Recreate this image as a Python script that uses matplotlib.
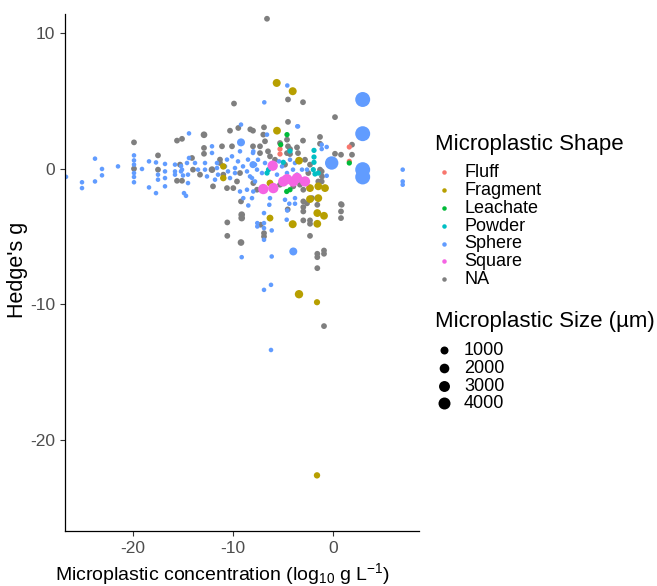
import matplotlib
matplotlib.use("Agg")
import matplotlib.pyplot as plt
from matplotlib.lines import Line2D

plt.rcParams["font.family"] = ["Liberation Sans", "DejaVu Sans"]
plt.rcParams["mathtext.fontset"] = "custom"
plt.rcParams["mathtext.rm"] = "Liberation Sans"
plt.rcParams["mathtext.it"] = "Liberation Sans:italic"
plt.rcParams["axes.unicode_minus"] = False

# points per microplastic shape: (log10 concentration, Hedge's g, size in um)
sphere = [
    (-26.7, -0.6, 20), (-25.1, -1.0, 20), (-25.1, -1.43, 20), (-23.8, 0.74, 20),
    (-23.8, -0.94, 20), (-23.1, -0.02, 20), (-23.1, -0.49, 20), (-21.5, 0.17, 20),
    (-19.9, 0.98, 20), (-19.9, 0.61, 20), (-19.9, 0.3, 20), (-19.9, -0.32, 20),
    (-19.9, -0.61, 20), (-19.9, -1.0, 20), (-19.1, -0.02, 20), (-18.4, 0.54, 20),
    (-18.4, -1.38, 20), (-17.7, 0.46, 20), (-17.5, -0.44, 20), (-17.5, -0.81, 20),
    (-17.7, -1.8, 20), (-16.8, 0.35, 20), (-16.8, -0.2, 20), (-16.8, -0.69, 20),
    (-16.8, -1.3, 20), (-15.8, 0.3, 20), (-15.8, -0.2, 20), (-15.8, -0.44, 20),
    (-15.2, 0.2, 20), (-15.2, -0.2, 20), (-15.0, -0.5, 20), (-14.7, -2.0, 20),
    (-14.9, -1.8, 20), (-14.4, 0.79, 20), (-14.4, 2.6, 20),
    (-9.2, 3.25, 20), (-12.1, 1.65, 20), (-12.1, 1.16, 20), (-8.0, 1.16, 20),
    (-14.6, 0.42, 20), (-15.1, -0.07, 20), (-13.8, 0.42, 20), (-13.5, -0.07, 20),
    (-14.5, -0.44, 20), (-14.5, -1.06, 20), (-12.8, 0.42, 20), (-12.8, -0.07, 20),
    (-12.6, -0.57, 20), (-11.6, 0.42, 20), (-11.6, 0.05, 20), (-11.5, -0.44, 20),
    (-11.8, -0.81, 20), (-10.8, 0.17, 20), (-10.6, 0.67, 20), (-10.5, -0.2, 20),
    (-10.3, -0.69, 20), (-10.1, 0.91, 20), (-9.8, 0.05, 20), (-9.8, -0.32, 20),
    (-9.5, 0.54, 20), (-9.3, 1.28, 20), (-9.0, 0.17, 20), (-8.6, -0.2, 20),
    (-8.5, 0.67, 20), (-8.3, -0.57, 20), (-8.0, 0.3, 600), (-7.8, -0.94, 20),
    (-7.6, -0.07, 20), (-9.3, -1.68, 20), (-8.6, -1.55, 20), (-8.1, -2.17, 20),
    (-8.97, -2.17, 20), (-6.6, 2.51, 20), (-3.5, 3.12, 20), (-7.97, 1.28, 20),
    (-4.3, 0.66, 20), (-7.8, 0.3, 20), (-7.5, 0.66, 20), (-6.8, 0.42, 20),
    (-7.1, -0.32, 20), (-5.4, 0.54, 20), (-5.1, 0.17, 20), (-4.6, -0.32, 20),
    (-5.6, -0.44, 20), (-3.8, 0.42, 20), (-4.0, -0.07, 20), (-3.1, -0.07, 20),
    (-3.6, -0.44, 20), (-2.6, -0.07, 20), (-8.1, -0.69, 20), (-7.97, -1.68, 20),
    (-6.3, -2.17, 20), (-4.8, -2.29, 20), (-3.8, -2.17, 20),
    (-0.63, 1.6, 20), (-1.13, 1.77, 20), (-1.13, 1.45, 20), (6.97, -0.07, 20),
    (6.97, -0.94, 20), (6.97, -1.18, 20), (-0.63, -0.52, 20),
    (-4.57, 6.13, 20), (-6.87, 4.89, 20), (-3.57, 3.12, 20),
    (-8.47, -2.71, 20), (-6.37, -2.66, 20), (-4.37, -2.58, 20), (-3.8, -2.58, 20),
    (-4.57, -3.08, 20), (-6.9, -3.27, 20), (-7.57, -4.01, 20), (-7.57, -4.26, 20),
    (-6.9, -4.01, 20), (-6.9, -4.38, 20), (-6.13, -4.55, 20), (-6.9, -5.24, 20),
    (-4.63, -3.76, 20), (-9.13, -6.52, 20), (-6.13, -6.47, 20), (-6.9, -8.93, 20),
    (-6.2, -8.56, 20), (-6.2, -13.36, 20),
    (-9.2, 1.94, 1000), (-3.97, -6.1, 1000), (2.97, 5.1, 7500), (2.97, 2.58, 7500),
    (2.97, -0.07, 7500), (2.97, -0.61, 7500), (-0.13, 0.42, 5500),
]

na_shape = [
    (-6.6, 11.05, 200), (-4.5, 5.1, 200), (-9.9, 4.8, 200), (-3.0, 4.9, 200),
    (0.2, 3.8, 200), (-4.5, 3.45, 200), (-10.3, 2.8, 200), (-8.0, 2.8, 200),
    (-6.9, 3.05, 200), (-19.9, 1.94, 200), (-15.6, 2.07, 200), (-15.1, 2.2, 200),
    (-12.9, 2.5, 450), (-11.1, 1.65, 200), (-10.1, 1.65, 200), (-8.0, 1.65, 200),
    (-7.3, 1.65, 200), (-4.5, 1.65, 200), (-3.6, 1.57, 200), (-3.0, 2.07, 200),
    (-1.3, 2.34, 200), (-1.3, 1.84, 200), (1.9, 1.77, 200), (-4.3, 1.08, 200),
    (0.2, 1.1, 200), (0.8, 1.03, 200), (1.9, 1.03, 200),
    (-19.9, 0.0, 200), (-17.5, 0.98, 200), (-17.5, -0.07, 200), (-15.6, -0.89, 200),
    (-15.1, -0.89, 200), (-15.3, 0.3, 200),
    (-12.9, 1.53, 200), (-12.9, 1.1, 200), (-14.1, 0.79, 200), (-14.0, -0.07, 200),
    (-13.3, -0.44, 200), (-12.1, -0.07, 450), (-11.3, 0.42, 200), (-10.97, -0.44, 200),
    (-12.0, -1.3, 200), (-9.3, -0.32, 200), (-9.6, -0.94, 200), (-10.6, -1.43, 200),
    (-9.97, -1.43, 200), (-11.3, 0.67, 200),
    (-6.97, 2.51, 200), (-4.6, 2.14, 200), (-6.8, 2.02, 200), (-6.5, 1.28, 200),
    (-5.3, 1.89, 200), (-4.3, 1.45, 200), (-4.6, 1.15, 200), (-7.3, 1.15, 200),
    (-6.3, 0.91, 200), (-5.8, 0.66, 200), (-4.8, 0.3, 200), (-3.5, 1.15, 200),
    (-2.8, 0.66, 200), (-2.3, 0.3, 200), (-1.3, -0.07, 200), (-1.1, -0.57, 200),
    (-1.47, -0.94, 200), (-2.47, -0.32, 200), (-5.3, -1.18, 200), (-3.97, -1.3, 200),
    (-3.3, -1.18, 200), (-2.97, -1.55, 200), (-7.97, -1.06, 200), (-7.6, -1.55, 200),
    (-2.1, -2.17, 200), (-2.6, -2.55, 200), (-1.13, -0.2, 200), (-1.13, -0.94, 200),
    (0.87, -2.66, 200), (-9.47, 3.0, 200), (-8.27, 2.9, 200),
    (-9.2, -2.41, 200), (-2.97, -2.41, 200), (-2.97, -2.83, 200), (-2.97, -3.15, 200),
    (-1.57, -2.66, 200), (0.8, -2.61, 200), (0.8, -3.15, 200), (0.8, -3.64, 200),
    (-9.13, -3.39, 450), (-9.13, -3.64, 450), (-10.57, -3.96, 200), (-7.23, -4.13, 200),
    (-6.9, -4.75, 200), (-6.9, -5.0, 200), (-2.97, -3.81, 200), (-2.3, -3.81, 200),
    (-2.3, -4.06, 200), (-2.3, -4.95, 200), (-10.57, -4.95, 200), (-9.2, -5.44, 450),
    (-1.57, -6.27, 200), (-1.57, -6.52, 200), (-0.9, -6.03, 200), (-0.9, -6.27, 200),
    (-1.57, -7.33, 200), (-0.9, -11.6, 200), (-4.53, -3.0, 200),
]

powder = [
    (-1.9, 1.35, 100), (-1.9, 0.86, 100), (-1.9, 0.47, 100), (-1.8, -0.39, 100),
    (-4.97, 0.47, 100), (-6.45, -0.07, 100), (-6.6, -0.32, 100), (-1.47, -0.32, 100),
    (-1.97, -0.07, 100), (-4.3, 1.3, 100),
]

fragment = [
    (-5.63, 6.32, 1000), (-4.03, 5.71, 1000), (-5.6, 2.8, 900), (-10.97, 0.17, 400),
    (-10.97, -0.69, 400), (-3.4, 0.59, 900), (-6.3, -1.06, 500), (-2.3, -1.43, 900),
    (-1.47, -1.3, 900), (-0.8, -1.43, 900), (-2.3, -2.24, 900), (-1.47, -2.17, 900),
    (-1.57, -3.27, 900), (-0.9, -3.47, 900), (-1.57, -4.06, 900), (-4.03, -4.09, 1000),
    (-6.3, -3.64, 500), (-3.4, -9.25, 1200), (-1.6, -9.84, 300), (-1.6, -22.6, 350),
]

fluff = [(-5.3, 1.45, 100), (-5.3, 1.08, 100), (1.63, 1.6, 100), (1.63, 0.54, 100)]

leachate = [
    (-4.6, 2.51, 100), (-5.23, 1.77, 100), (1.63, 0.42, 100), (-4.63, -1.68, 100),
    (-4.3, -1.55, 100),
]

square = [
    (-6.03, 0.22, 2500), (-4.97, -0.94, 2500), (-3.97, -0.94, 2500), (-2.8, -0.94, 2500),
    (-6.97, -1.5, 2500), (-5.97, -1.43, 2500), (-4.6, -0.77, 2500), (-3.6, -0.69, 2500),
]

shape_names = ["Fluff", "Fragment", "Leachate", "Powder", "Sphere", "Square", "NA"]
shape_colors = ["#F8766D", "#B79F00", "#00BA38", "#00BFC4", "#619CFF", "#F564E3", "#7F7F7F"]
size_breaks = [1000, 2000, 3000, 4000]

DPI = 100
W, H = 657, 586


def diam_px(v):
    # ggplot style area scale: diameter grows with sqrt(size)
    return 4.0 + 0.1265 * v ** 0.5


def fx(px):
    return px / W


def fy(py):
    return 1 - py / H


fig = plt.figure(figsize=(W / DPI, H / DPI), dpi=DPI)
ax = fig.add_axes([fx(65), fy(531), 354 / W, 517 / H])

groups = {
    "NA": na_shape, "Sphere": sphere, "Powder": powder, "Fragment": fragment,
    "Fluff": fluff, "Leachate": leachate, "Square": square,
}
for name in ["NA", "Sphere", "Powder", "Fragment", "Fluff", "Leachate", "Square"]:
    pts = groups[name]
    col = shape_colors[shape_names.index(name)]
    ax.scatter([p[0] for p in pts], [p[1] for p in pts],
               s=[(diam_px(p[2]) * 72 / DPI) ** 2 for p in pts],
               color=col, linewidths=0)

ax.set_xlim(-26.8, 8.6)
ax.set_ylim(-26.7, 11.4)
ax.set_xticks([-20, -10, 0])
ax.set_yticks([-20, -10, 0, 10])
for side in ["top", "right"]:
    ax.spines[side].set_visible(False)
for side in ["left", "bottom"]:
    ax.spines[side].set_linewidth(0.9)
ax.tick_params(length=3.5, width=0.8, labelsize=12.5, labelcolor="#4D4D4D", color="#333333")

ax.set_xlabel(r"Microplastic concentration (log$_{10}$ g L$^{-1}$)", fontsize=14)
ax.xaxis.set_label_coords(0.446, -0.058)
ax.set_ylabel("Hedge's g", fontsize=15.5)
ax.yaxis.set_label_coords(-0.104, 0.505)

# legends drawn by hand so the spacing can follow the reference
fig.text(fx(435), fy(150), "Microplastic Shape", fontsize=16, va="baseline")
for i, (name, col) in enumerate(zip(shape_names, shape_colors)):
    base = 177.3 + 17.8 * i
    fig.add_artist(Line2D([fx(444)], [fy(base - 5)], transform=fig.transFigure,
                          marker="o", linestyle="", markersize=4.5 * 72 / DPI,
                          markerfacecolor=col, markeredgewidth=0))
    fig.text(fx(464), fy(base), name, fontsize=13, va="baseline")

fig.text(fx(435), fy(326.5), "Microplastic Size (µm)", fontsize=16, va="baseline")
for i, v in enumerate(size_breaks):
    base = 355 + 17.8 * i
    fig.add_artist(Line2D([fx(444)], [fy(base - 5)], transform=fig.transFigure,
                          marker="o", linestyle="", markersize=diam_px(v) * 72 / DPI,
                          markerfacecolor="black", markeredgewidth=0))
    fig.text(fx(464), fy(base), str(v), fontsize=13, va="baseline")

fig.savefig("out.png", dpi=DPI)
